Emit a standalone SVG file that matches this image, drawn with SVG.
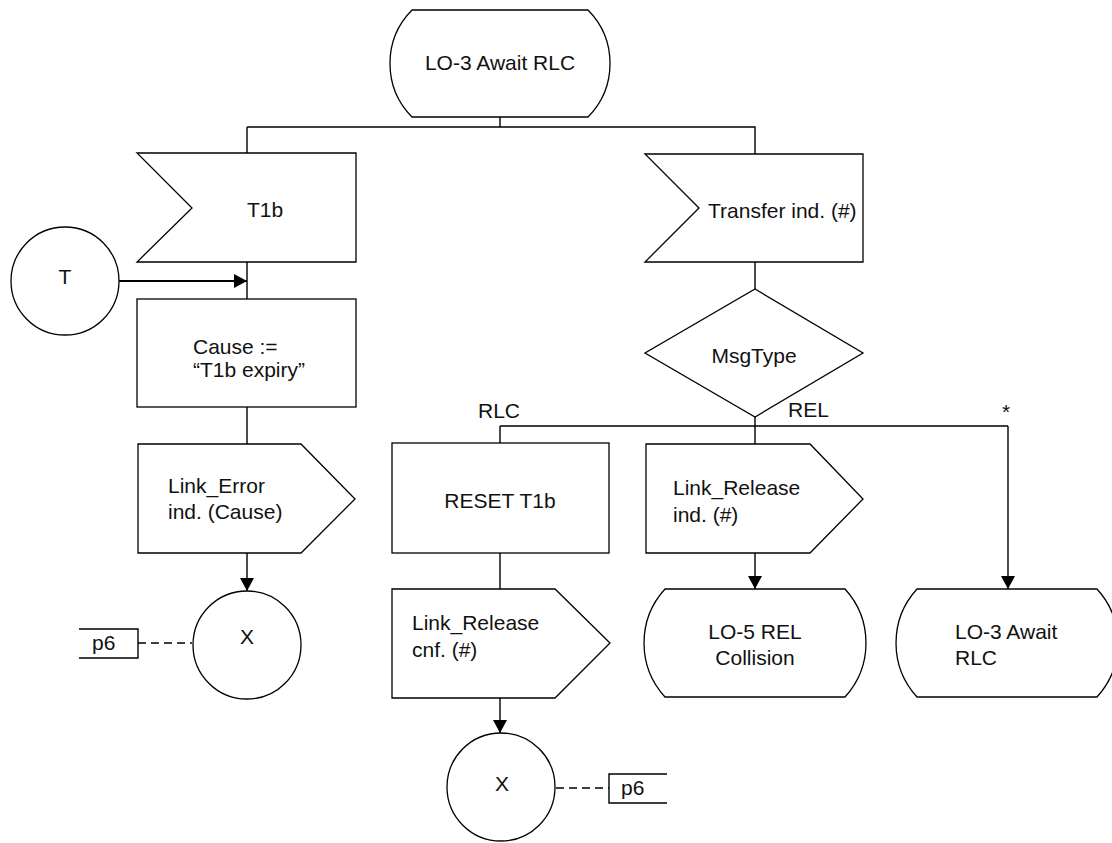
<svg xmlns="http://www.w3.org/2000/svg" width="1112" height="843" viewBox="0 0 1112 843">
  <style>
    .shape { fill: #ffffff; stroke: #000000; stroke-width: 1.3; }
    .wire { fill: none; stroke: #000000; stroke-width: 1.4; }
    .bold { stroke-width: 2.2; }
    .dash { fill: none; stroke: #000000; stroke-width: 1.4; stroke-dasharray: 8 5; }
    .lbl { font-family: "Liberation Sans", Arial, sans-serif; font-size: 21px; fill: #111111; }
    .mid { text-anchor: middle; }
  </style>
  <defs>
    <marker id="arrow" markerUnits="userSpaceOnUse" markerWidth="13" markerHeight="14" refX="13" refY="7" orient="auto">
      <path d="M0,0 L13,7 L0,14 Z" fill="#000000"/>
    </marker>
  </defs>

  <!-- connectors -->
  <g id="connectors">
    <path class="wire" d="M500,117 V127 M247,127 H755 V154 M247,127 V153"/>
    <path class="wire" d="M247,262 V299 M247,407 V444"/>
    <path class="wire" d="M247,553 V591" marker-end="url(#arrow)"/>
    <path class="wire bold" d="M119,281 H247" marker-end="url(#arrow)"/>
    <path class="wire" d="M755,262 V289 M755,417 V444 M500,426 H1008 M500,426 V443"/>
    <path class="wire" d="M1008,426 V589" marker-end="url(#arrow)"/>
    <path class="wire" d="M755,553 V589" marker-end="url(#arrow)"/>
    <path class="wire" d="M500,553 V589"/>
    <path class="wire" d="M500,698 V733" marker-end="url(#arrow)"/>
    <path class="dash" d="M138,643 H192"/>
    <path class="dash" d="M556,788 H609"/>
    <text class="lbl" x="478" y="418">RLC</text>
    <text class="lbl" x="788" y="417">REL</text>
    <text class="lbl" x="1002" y="419">*</text>
  </g>

  <!-- start state -->
  <g id="state-top">
    <path class="shape" d="M412,10 H588 A76,76 0 0 1 588,117 H412 A76,76 0 0 1 412,10 Z"/>
    <text class="lbl mid" x="500" y="70">LO-3 Await RLC</text>
  </g>

  <!-- input T1b -->
  <g id="input-t1b">
    <path class="shape" d="M137,153 H356 V262 H137 L192,208 Z"/>
    <text class="lbl mid" x="265" y="217">T1b</text>
  </g>

  <!-- timer connector T -->
  <g id="connector-t">
    <circle class="shape" cx="65" cy="281" r="54"/>
    <text class="lbl mid" x="65" y="284">T</text>
  </g>

  <!-- task Cause -->
  <g id="task-cause">
    <rect class="shape" x="137" y="299" width="219" height="108"/>
    <text class="lbl" x="193" y="354">Cause :=</text>
    <text class="lbl" x="193" y="377">“T1b expiry”</text>
  </g>

  <!-- output Link_Error -->
  <g id="output-link-error">
    <path class="shape" d="M138,444 H301 L355,499 L301,553 H138 Z"/>
    <text class="lbl" x="168" y="493">Link_Error</text>
    <text class="lbl" x="168" y="519">ind. (Cause)</text>
  </g>

  <!-- connector X (left) -->
  <g id="connector-x-left">
    <circle class="shape" cx="247" cy="645" r="54"/>
    <text class="lbl mid" x="247" y="644">X</text>
  </g>

  <!-- page reference p6 (left) -->
  <g id="ref-p6-left">
    <path class="wire" d="M79,629 H138 V658 H79"/>
    <text class="lbl" x="92" y="650">p6</text>
  </g>

  <!-- input Transfer ind. -->
  <g id="input-transfer">
    <path class="shape" d="M645,154 H863 V262 H645 L699,208 Z"/>
    <text class="lbl" x="708" y="218">Transfer ind. (#)</text>
  </g>

  <!-- decision MsgType -->
  <g id="decision-msgtype">
    <path class="shape" d="M755,289 L863,353 L755,417 L645,353 Z"/>
    <text class="lbl mid" x="754" y="363">MsgType</text>
  </g>

  <!-- task RESET T1b -->
  <g id="task-reset">
    <rect class="shape" x="392" y="443" width="217" height="110"/>
    <text class="lbl mid" x="500" y="508">RESET T1b</text>
  </g>

  <!-- output Link_Release cnf. -->
  <g id="output-release-cnf">
    <path class="shape" d="M392,589 H555 L610,643 L555,698 H392 Z"/>
    <text class="lbl" x="412" y="630">Link_Release</text>
    <text class="lbl" x="412" y="657">cnf. (#)</text>
  </g>

  <!-- connector X (bottom) -->
  <g id="connector-x-bottom">
    <circle class="shape" cx="501" cy="787" r="54"/>
    <text class="lbl mid" x="502" y="791">X</text>
  </g>

  <!-- page reference p6 (bottom) -->
  <g id="ref-p6-bottom">
    <path class="wire" d="M667,774 H609 V803 H667"/>
    <text class="lbl" x="621" y="795">p6</text>
  </g>

  <!-- output Link_Release ind. -->
  <g id="output-release-ind">
    <path class="shape" d="M646,444 H810 L863,499 L810,553 H646 Z"/>
    <text class="lbl" x="673" y="495">Link_Release</text>
    <text class="lbl" x="673" y="522">ind. (#)</text>
  </g>

  <!-- next state LO-5 -->
  <g id="state-lo5">
    <path class="shape" d="M665,589 H845 A80,80 0 0 1 845,697 H665 A80,80 0 0 1 665,589 Z"/>
    <text class="lbl mid" x="755" y="639">LO-5 REL</text>
    <text class="lbl mid" x="755" y="665">Collision</text>
  </g>

  <!-- next state LO-3 -->
  <g id="state-lo3">
    <path class="shape" d="M917,589 H1097 A80,80 0 0 1 1097,697 H917 A80,80 0 0 1 917,589 Z"/>
    <text class="lbl" x="955" y="639">LO-3 Await</text>
    <text class="lbl" x="955" y="665">RLC</text>
  </g>
</svg>
